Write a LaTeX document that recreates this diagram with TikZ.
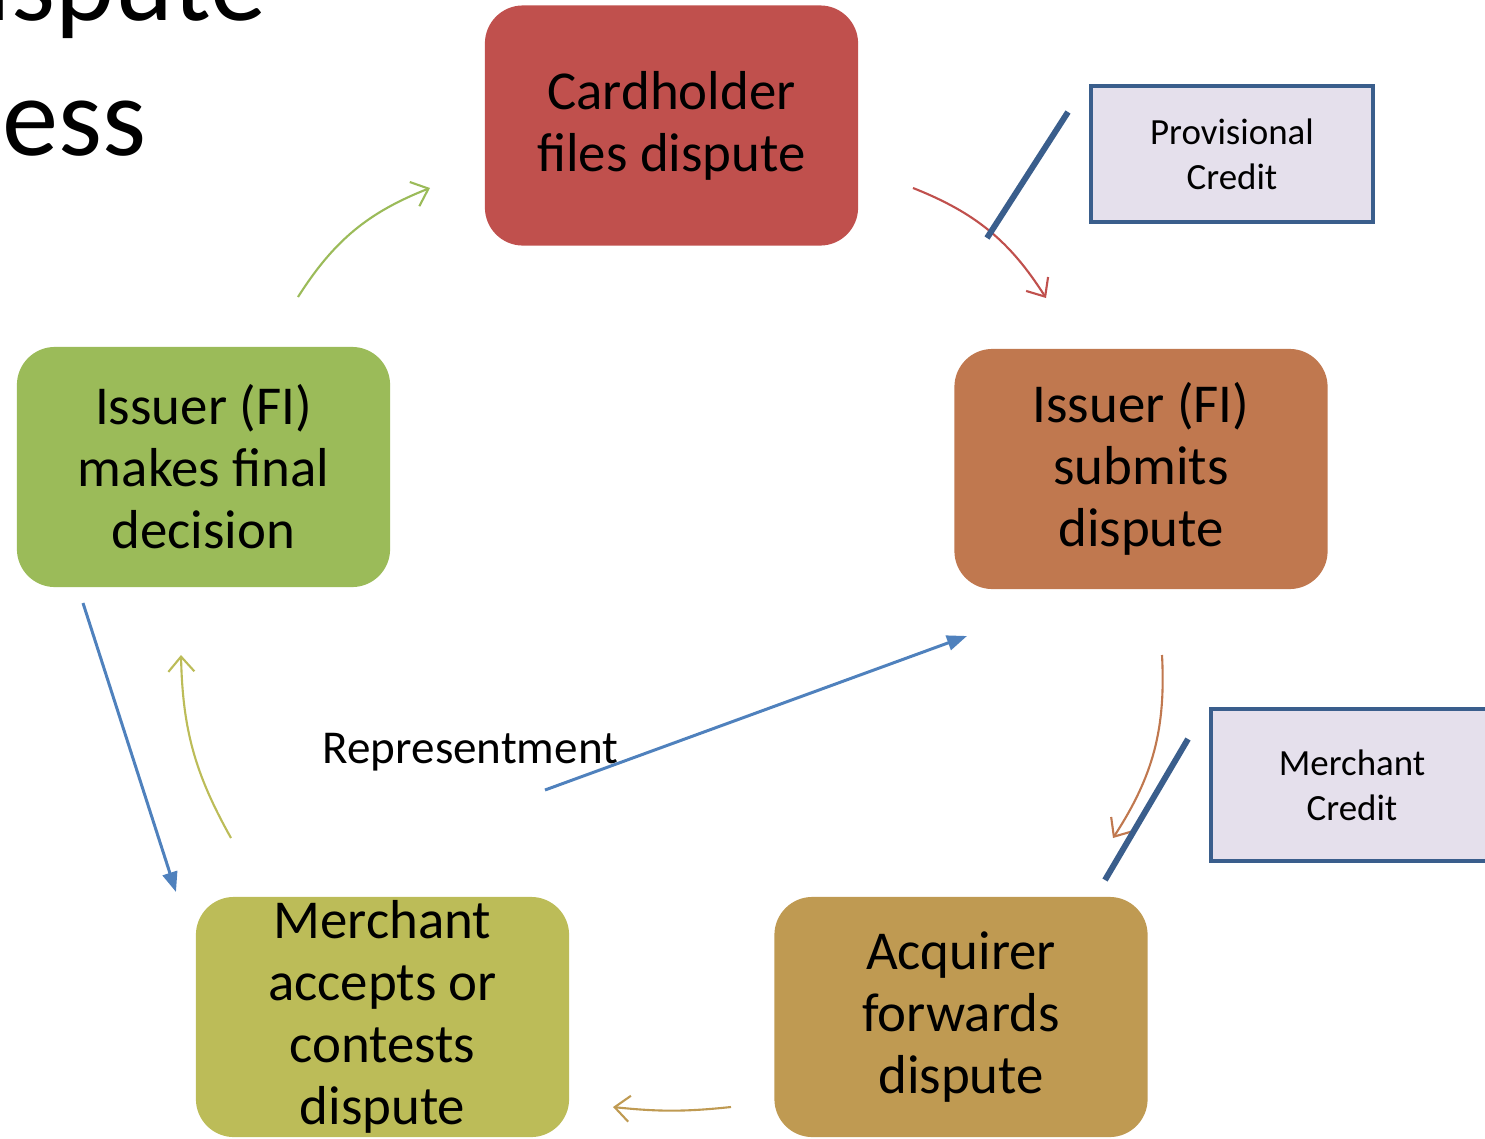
\documentclass[tikz,border=0pt]{standalone}
\usepackage{fontspec}
\setmainfont{Carlito}
\usetikzlibrary{arrows.meta}

\definecolor{holdred}{HTML}{C0504D}
\definecolor{issuebrown}{HTML}{C0784F}
\definecolor{acqtan}{HTML}{BF9A52}
\definecolor{merchlime}{HTML}{BCBC58}
\definecolor{finalgreen}{HTML}{9BBB59}
\definecolor{notefill}{HTML}{E5E0EC}
\definecolor{noteblue}{HTML}{3A5E8C}
\definecolor{linkblue}{HTML}{4F81BD}

\begin{document}
\begin{tikzpicture}
            [x=0.01cm,y=0.01cm,
             stage/.style={rectangle,rounded corners=0.38cm,minimum width=3.73cm,minimum height=2.4cm,
                           inner sep=0pt,align=flush center,text width=3.6cm,
                           font=\fontsize{15.6pt}{17.6pt}\selectfont},
             note/.style={rectangle,draw=noteblue,line width=1.1pt,fill=notefill,inner sep=0pt,
                          align=center,font=\fontsize{10.5pt}{12.8pt}\selectfont},
             flow/.style={line width=0.6pt,-{Straight Barb[length=1.5mm,width=2.6mm]}},
             back/.style={draw=linkblue,line width=0.85pt,-{Triangle[length=2mm,width=1.5mm]}},
             tie/.style={draw=noteblue,line width=1.7pt}]
            \useasboundingbox (0,0) rectangle (1485,1138);
            % title, cut by the page
            \node[anchor=base east,inner sep=0pt,font=\fontsize{32pt}{38pt}\selectfont] (title1) at (267,1118) {Dispute};
            \node[anchor=base east,inner sep=0pt,font=\fontsize{32pt}{38pt}\selectfont] (title2) at (147,983) {Process};
            %
            \node[stage,fill=holdred] (hold) at (671.5,1012.5) {Cardholder\\files dispute};
            \node[stage,fill=issuebrown] (submit) at (1141,669) {Issuer (FI)\\submits\\dispute};
            \node[stage,fill=acqtan] (acq) at (961,121) {Acquirer\\forwards\\dispute};
            \node[stage,fill=merchlime] (merch) at (382.5,121) {Merchant\\accepts or\\contests\\dispute};
            \node[stage,fill=finalgreen] (final) at (203.5,671) {Issuer (FI)\\makes final\\decision};
            %
            \node[note,minimum width=2.82cm,minimum height=1.36cm] (prov) at (1232,984) {Provisional\\Credit};
            \node[note,minimum width=2.82cm,minimum height=1.52cm] (mcred) at (1352,353) {Merchant\\Credit};
            %
            \node[anchor=base west,inner sep=0pt,font=\fontsize{13.4pt}{16pt}\selectfont] (rep) at (322,375) {Representment};
            %
            \coordinate (g1) at (298,841);  \coordinate (g2) at (430,950);
            \coordinate (r1) at (913,950);  \coordinate (r2) at (1046,840);
            \coordinate (o1) at (1162,483); \coordinate (o2) at (1113,300);
            \coordinate (t1) at (731,31);   \coordinate (t2) at (613,31);
            \coordinate (y1) at (231,300);  \coordinate (y2) at (181,483);
            \coordinate (b1) at (83,535);   \coordinate (b2) at (176,246);
            \coordinate (b3) at (545,348);  \coordinate (b4) at (967,502);
            \coordinate (p1) at (1068,1026); \coordinate (p2) at (987,900);
            \coordinate (m1) at (1188,399); \coordinate (m2) at (1105,258);
            %
            \draw[flow,finalgreen] (g1) to[bend left=18] (g2);
            \draw[flow,holdred] (r1) to[bend left=18] (r2);
            \draw[flow,issuebrown] (o1) to[bend left=18] (o2);
            \draw[flow,acqtan] (t1) to[bend left=6] (t2);
            \draw[flow,merchlime] (y1) to[bend left=14] (y2);
            \draw[back] (b1) -- (b2);
            \draw[back] (b3) -- (b4);
            %
            \draw[tie] (p1) -- (p2);
            \draw[tie] (m1) -- (m2);
        \end{tikzpicture}
\end{document}
